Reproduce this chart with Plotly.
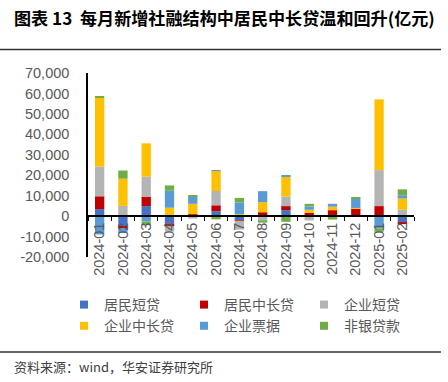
import plotly.graph_objects as go

# ---------------- data ----------------
months = ["2024-01", "2024-02", "2024-03", "2024-04", "2024-05", "2024-06", "2024-07",
          "2024-08", "2024-09", "2024-10", "2024-11", "2024-12", "2025-01", "2025-02"]
hh_short = [3400, -4900, 4900, -3600, 200, 2400, -2000, 200, 2900, -300, 100, 500, -400, -2900]
hh_long = [6300, -900, 4600, -1500, 700, 2900, -200, 1700, 2000, 1600, 2800, 3200, 4900, -1000]
corp_short = [14600, 5000, 9800, -2500, -1200, 7000, -4400, -2000, 4700, -1800, -300, -200, 17600, 3100]
corp_long = [33500, 13300, 16300, 4100, 5100, 9800, 1000, 4900, 9600, 1500, 1700, 300, 34600, 5500]
bills = [-9000, -2500, -2600, 8300, 3700, 100, 5600, 5400, 800, 1600, 1400, 4600, -5700, 1600]
nonbank = [500, 4000, -1800, 2600, 300, -1600, 2300, -1200, -2800, 1300, -1400, 500, -1600, 2900]

series_names = ["居民短贷", "居民中长贷", "企业短贷", "企业中长贷", "企业票据", "非银贷款"]
series_values = [hh_short, hh_long, corp_short, corp_long, bills, nonbank]
series_colors = ["#4472C4", "#C00000", "#B4B4B4", "#FFC000", "#5B9BD5", "#70AD47"]

y_tick_vals = [-20000, -10000, 0, 10000, 20000, 30000, 40000, 50000, 60000, 70000]
y_tick_text = ["-20,000", "-10,000", "0", "10,000", "20,000", "30,000",
               "40,000", "50,000", "60,000", "70,000"]
y_min, y_max = -20000, 70000

title_text = "<b>图表 13  每月新增社融结构中居民中长贷温和回升(亿元)</b>"
source_text = "资料来源：wind，华安证券研究所"

# ---------------- layout constants (px) ----------------
W, H = 448, 382
ML, MR, MT, MB = 88, 34, 73, 125
PW, PH = W - ML - MR, H - MT - MB


def px_x(px):
    return (px - ML) / PW


def px_y(py):
    return (H - MB - py) / PH


CJK = "Noto Sans CJK SC, Noto Sans, sans-serif"
LAT = "Liberation Sans, Arial, sans-serif"

fig = go.Figure()
for name, vals, col in zip(series_names, series_values, series_colors):
    fig.add_trace(go.Bar(x=months, y=vals, name=name, marker_color=col,
                         marker_line_width=0, showlegend=False))
# legend entries with small square swatches
for name, col in zip(series_names, series_colors):
    fig.add_trace(go.Scatter(x=[None], y=[None], mode="markers", name=name,
                             marker=dict(symbol="square", size=8, color=col)))

fig.update_layout(
    width=W, height=H,
    margin=dict(l=ML, r=MR, t=MT, b=MB, autoexpand=False),
    paper_bgcolor="white", plot_bgcolor="white",
    barmode="relative", bargap=0.6,
    showlegend=True,
    legend=dict(orientation="h", x=px_x(64), y=px_y(289), xanchor="left", yanchor="top",
                entrywidth=75, entrywidthmode="pixels",
                font=dict(family=CJK, size=14, color="#595959"),
                bgcolor="rgba(0,0,0,0)", tracegroupgap=0),
    xaxis=dict(type="category", anchor="free", position=(0 - y_min) / (y_max - y_min),
               showline=True, linecolor="black", linewidth=1.5,
               ticks="outside", tickson="boundaries", ticklen=4, tickcolor="black",
               tickwidth=1.2, automargin=False,
               tickangle=-90, tickfont=dict(family=LAT, size=14.5, color="#595959"),
               showgrid=False, zeroline=False),
    yaxis=dict(range=[y_min, y_max], tickvals=y_tick_vals, ticktext=y_tick_text,
               showline=True, linecolor="black", linewidth=1.5, automargin=False,
               ticks="", ticklabelstandoff=14,
               tickfont=dict(family=LAT, size=14.5, color="#595959"),
               showgrid=False, zeroline=False),
    font=dict(family=CJK),
    shapes=[
        dict(type="line", xref="paper", yref="paper", x0=px_x(0), x1=px_x(441),
             y0=px_y(49.5), y1=px_y(49.5), line=dict(color="#333333", width=1.5)),
        dict(type="line", xref="paper", yref="paper", x0=px_x(0), x1=px_x(441),
             y0=px_y(352), y1=px_y(352), line=dict(color="#333333", width=1.5)),
    ],
    annotations=[
        dict(text=title_text, xref="paper", yref="paper", x=px_x(12), y=px_y(18),
             xanchor="left", yanchor="middle", showarrow=False,
             font=dict(family=CJK, size=17.1, color="black")),
        dict(text=source_text, xref="paper", yref="paper", x=px_x(12), y=px_y(366),
             xanchor="left", yanchor="middle", showarrow=False,
             font=dict(family=CJK, size=13, color="#404040")),
    ],
)

fig.write_html("out.html", config={"displayModeBar": False},
               post_script="document.body.style.margin='0px';document.body.style.overflow='hidden';")
